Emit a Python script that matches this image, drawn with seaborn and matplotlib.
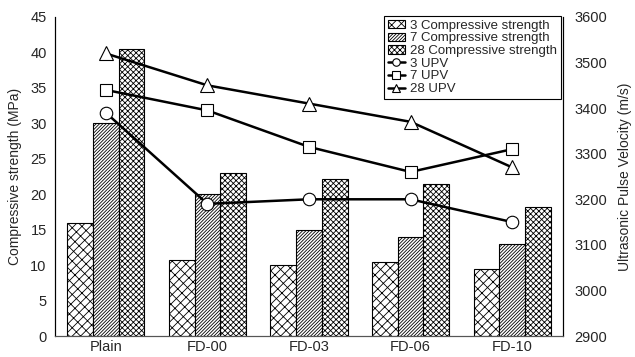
import matplotlib
matplotlib.use("Agg")
import matplotlib.pyplot as plt
import seaborn as sns
import pandas as pd
import numpy as np

categories = ["Plain", "FD-00", "FD-03", "FD-06", "FD-10"]
cs3 = [16.0, 10.7, 10.0, 10.5, 9.5]
cs7 = [30.0, 20.0, 15.0, 14.0, 13.0]
cs28 = [40.5, 23.0, 22.2, 21.5, 18.2]
upv3 = [3390, 3190, 3200, 3200, 3150]
upv7 = [3440, 3395, 3315, 3260, 3310]
upv28 = [3520, 3450, 3410, 3370, 3270]

sns.set_theme(style="white")
plt.rcParams["font.family"] = ["Liberation Sans", "DejaVu Sans"]
plt.rcParams["hatch.linewidth"] = 0.6

df = pd.DataFrame({
    "cat": categories * 3,
    "val": cs3 + cs7 + cs28,
    "series": (["3 Compressive strength"] * 5 + ["7 Compressive strength"] * 5
               + ["28 Compressive strength"] * 5),
})

fig = plt.figure(figsize=(6.35, 3.57), dpi=100)
ax = fig.add_axes([0.0866, 0.0588, 0.80, 0.8936])
sns.barplot(data=df, x="cat", y="val", hue="series", ax=ax, width=0.76,
            palette=["white", "white", "white"], edgecolor="black",
            linewidth=0.8, legend=False, errorbar=None)
hatches = ["////\\\\\\", "//////////", "xxxxxx"]
for cont, h in zip(ax.containers, hatches):
    for p in cont.patches:
        p.set_hatch(h)
ax.set_ylim(0, 45)
ax.set_yticks(range(0, 46, 5))
ax.set_xlim(-0.5, 4.5)
ax.set_xlabel("")
ax.set_ylabel("Compressive strength (MPa)", fontsize=10, labelpad=6)
ax.tick_params(axis="y", labelsize=10.5, length=0, pad=6)
ax.tick_params(axis="x", labelsize=10.5, length=0, pad=3)

ax2 = ax.twinx()
x = np.arange(len(categories))
l1, = ax2.plot(x, upv3, color="black", lw=1.8, marker="o", ms=9, mfc="white", mec="black", mew=0.8)
l2, = ax2.plot(x, upv7, color="black", lw=1.8, marker="s", ms=9, mfc="white", mec="black", mew=0.8)
l3, = ax2.plot(x, upv28, color="black", lw=1.8, marker="^", ms=10, mfc="white", mec="black", mew=0.8)
ax2.set_ylim(2900, 3600)
ax2.set_yticks(range(2900, 3601, 100))
ax2.set_ylabel("Ultrasonic Pulse Velocity (m/s)", fontsize=10, labelpad=8)
ax2.tick_params(axis="y", labelsize=10.5, length=0, pad=8)

for a in (ax, ax2):
    a.spines["top"].set_visible(False)
    for s in ("left", "right", "bottom"):
        a.spines[s].set_color("black")
        a.spines[s].set_linewidth(0.8)
ax2.spines["bottom"].set_color("#555555")
ax.spines["bottom"].set_color("#555555")

handles = list(ax.containers[0].patches[:1]) + list(ax.containers[1].patches[:1]) + list(ax.containers[2].patches[:1]) + [l1, l2, l3]
labels = ["3 Compressive strength", "7 Compressive strength", "28 Compressive strength",
          "3 UPV", "7 UPV", "28 UPV"]
leg = ax2.legend(handles, labels, loc="upper right", bbox_to_anchor=(1.0, 1.01), fontsize=9.5,
                 frameon=True, fancybox=False, edgecolor="black", framealpha=1,
                 handlelength=1.3, handleheight=0.6, labelspacing=0.05, borderpad=0.3,
                 handletextpad=0.4, markerscale=0.6, borderaxespad=0.15)
leg.get_frame().set_linewidth(0.8)

fig.savefig("out.png", dpi=100)
